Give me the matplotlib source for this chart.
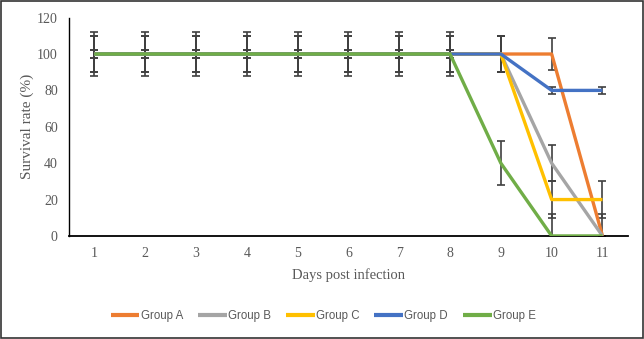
import matplotlib
matplotlib.use("Agg")
import matplotlib.pyplot as plt
from matplotlib import font_manager
from matplotlib.patches import Rectangle

days = [1, 2, 3, 4, 5, 6, 7, 8, 9, 10, 11]
day_labels = [str(d) for d in days]

group_a = [100, 100, 100, 100, 100, 100, 100, 100, 100, 100, 0]
group_b = [100, 100, 100, 100, 100, 100, 100, 100, 100, 40, 0]
group_c = [100, 100, 100, 100, 100, 100, 100, 100, 100, 20, 20]
group_d = [100, 100, 100, 100, 100, 100, 100, 100, 100, 80, 80]
group_e = [100, 100, 100, 100, 100, 100, 100, 100, 40, 0, 0]

err_a = [10, 10, 10, 10, 10, 10, 10, 10, 10, 9, 12]
err_b = [12, 12, 12, 12, 12, 12, 12, 12, 10, 10, 0]
err_c = [2, 2, 2, 2, 2, 2, 2, 2, 10, 10, 10]
err_d = [2, 2, 2, 2, 2, 2, 2, 2, 10, 2, 2]
err_e = [10, 10, 10, 10, 10, 10, 10, 10, 12, 12, 0]

names = ["Group A", "Group B", "Group C", "Group D", "Group E"]
series = [group_a, group_b, group_c, group_d, group_e]
errors = [err_a, err_b, err_c, err_d, err_e]
colors = ["#ED7D31", "#A5A5A5", "#FFC000", "#4472C4", "#70AD47"]

label_col = "#595959"

# narrow sans for the legend if we have one
installed = {f.name for f in font_manager.fontManager.ttflist}
if "Liberation Sans Narrow" in installed:
    leg_font, leg_size = "Liberation Sans Narrow", 9.5
else:
    leg_font, leg_size = "Liberation Sans", 8.3

fig = plt.figure(figsize=(6.44, 3.39), dpi=100)
ax = fig.add_axes([0.107, 0.304, 0.868, 0.644])

x = list(range(len(days)))

for vals, errs in zip(series, errors):
    ax.errorbar(x, vals, yerr=errs, fmt="none", ecolor="#404040",
                elinewidth=1.2, capsize=3, capthick=1.2, zorder=2)

for name, vals, col in zip(names, series, colors):
    ax.plot(x, vals, color=col, lw=2.4, label=name, zorder=3,
            solid_capstyle="butt")

ax.set_xlim(-0.5, len(days) - 0.5)
ax.set_ylim(0, 120)
ax.set_yticks(range(0, 121, 20))
ax.set_xticks(x)
ax.set_xticklabels(day_labels)

for s in ["top", "right"]:
    ax.spines[s].set_visible(False)
ax.spines["left"].set_color("#000000")
ax.spines["bottom"].set_color("#000000")
ax.spines["left"].set_linewidth(1.0)
ax.spines["bottom"].set_linewidth(1.3)
ax.tick_params(length=0, pad=8, labelsize=10, labelcolor=label_col)
for lab in ax.get_xticklabels() + ax.get_yticklabels():
    lab.set_family("Liberation Serif")

ax.set_xlabel("Days post infection", family="Liberation Serif",
              fontsize=10.5, color=label_col, labelpad=6)
ax.set_ylabel("Survival rate (%)", family="Liberation Serif",
              fontsize=11, color=label_col, labelpad=2)

leg = fig.legend(loc="center", bbox_to_anchor=(0.502, 0.068), ncol=5,
                 frameon=False, handlelength=2.5, handletextpad=0.1,
                 columnspacing=1.3,
                 prop={"family": [leg_font, "DejaVu Sans"], "size": leg_size})
for t in leg.get_texts():
    t.set_color(label_col)
for h in leg.get_lines():
    h.set_linewidth(3)

fig.patches.append(Rectangle((0.002, 0.003), 0.996, 0.994,
                             transform=fig.transFigure, fill=False,
                             edgecolor="#333333", lw=1.2))

fig.savefig("out.png", dpi=100)
